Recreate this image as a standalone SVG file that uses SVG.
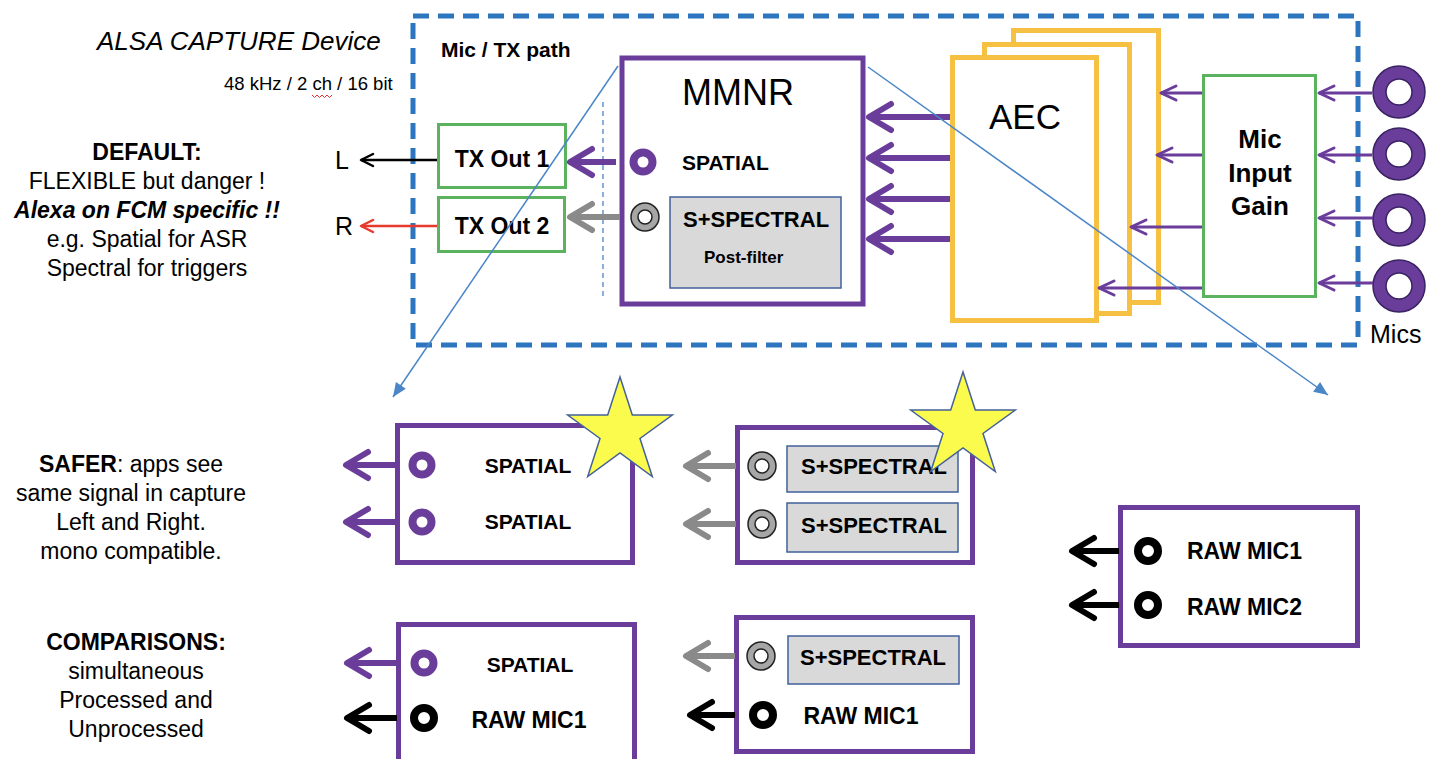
<svg xmlns="http://www.w3.org/2000/svg" width="1437" height="759" viewBox="0 0 1437 759">
<style>
text{font-family:"Liberation Sans",Arial,sans-serif;fill:#000}
.b{font-weight:bold}
.c{text-anchor:middle}
.side{font-size:23px;text-anchor:middle}
.node{fill:#fff;stroke:#6a3d9a;stroke-width:5}
.green{fill:#fff;stroke:#5cb35f;stroke-width:3}
.aec{fill:#fff;stroke:#f6c142;stroke-width:5}
.gbox{fill:#d9d9d9;stroke:#41609c;stroke-width:1.5}
.pring{fill:none;stroke:#6a3d9a;stroke-width:8}
.bring{fill:none;stroke:#000;stroke-width:8}
.gring{fill:#a6a6a6;fill-rule:evenodd;stroke:#222;stroke-width:1.5}
.mic{fill:#6a3d9a;fill-rule:evenodd;stroke:#3a2363;stroke-width:1.5}
.star{fill:#fbfb4e;stroke:#44619a;stroke-width:1.5}
.ap{fill:none;stroke:#6a3d9a;stroke-width:6;marker-end:url(#mP)}
.ag{fill:none;stroke:#8a8a8a;stroke-width:6;marker-end:url(#mG)}
.ak{fill:none;stroke:#000;stroke-width:6;marker-end:url(#mK)}
.apt{fill:none;stroke:#6a3d9a;stroke-width:3;marker-end:url(#mPt)}
.proj{fill:none;stroke:#4a86c8;stroke-width:1.5;marker-end:url(#mB)}
</style>
<defs>
<marker id="mP" markerUnits="userSpaceOnUse" viewBox="-28 -17 32 34" refX="0" refY="0" markerWidth="32" markerHeight="34" orient="auto" overflow="visible">
<path d="M-22,-13 L0,0 L-22,13" fill="none" stroke="#6a3d9a" stroke-width="6" stroke-linecap="round" stroke-linejoin="round"/>
</marker>
<marker id="mG" markerUnits="userSpaceOnUse" viewBox="-28 -17 32 34" refX="0" refY="0" markerWidth="32" markerHeight="34" orient="auto" overflow="visible">
<path d="M-22,-13 L0,0 L-22,13" fill="none" stroke="#8a8a8a" stroke-width="6" stroke-linecap="round" stroke-linejoin="round"/>
</marker>
<marker id="mK" markerUnits="userSpaceOnUse" viewBox="-28 -17 32 34" refX="0" refY="0" markerWidth="32" markerHeight="34" orient="auto" overflow="visible">
<path d="M-22,-13 L0,0 L-22,13" fill="none" stroke="#000" stroke-width="6" stroke-linecap="round" stroke-linejoin="round"/>
</marker>
<marker id="mPt" markerUnits="userSpaceOnUse" viewBox="-20 -10 24 20" refX="0" refY="0" markerWidth="24" markerHeight="20" orient="auto" overflow="visible">
<path d="M-15,-7 L0,0 L-15,7" fill="none" stroke="#6a3d9a" stroke-width="3" stroke-linecap="round" stroke-linejoin="round"/>
</marker>
<marker id="mKt" markerUnits="userSpaceOnUse" viewBox="-18 -9 22 18" refX="0" refY="0" markerWidth="22" markerHeight="18" orient="auto" overflow="visible">
<path d="M-12,-6 L0,0 L-12,6" fill="none" stroke="#000" stroke-width="2.5" stroke-linecap="round" stroke-linejoin="round"/>
</marker>
<marker id="mR" markerUnits="userSpaceOnUse" viewBox="-18 -9 22 18" refX="0" refY="0" markerWidth="22" markerHeight="18" orient="auto" overflow="visible">
<path d="M-12,-6 L0,0 L-12,6" fill="none" stroke="#e8392d" stroke-width="2.5" stroke-linecap="round" stroke-linejoin="round"/>
</marker>
<marker id="mB" markerUnits="userSpaceOnUse" viewBox="-16 -8 18 16" refX="0" refY="0" markerWidth="18" markerHeight="16" orient="auto" overflow="visible">
<path d="M-14,-6 L0,0 L-14,6 Z" fill="#4a86c8"/>
</marker>
<path id="gr" class="gring" d="M-14,0 a14,14 0 1,0 28,0 a14,14 0 1,0 -28,0 Z M-7,0 a7,7 0 1,0 14,0 a7,7 0 1,0 -14,0 Z"/>
<path id="micring" class="mic" d="M-26,0 a26,26 0 1,0 52,0 a26,26 0 1,0 -52,0 Z M-13,0 a13,13 0 1,0 26,0 a13,13 0 1,0 -26,0 Z"/>
<polygon id="star" class="star" points="0,-55 12.3,-17 52.3,-17 20,6.5 32.3,44.5 0,21 -32.3,44.5 -20,6.5 -52.3,-17 -12.3,-17"/>
</defs>

<rect width="1437" height="759" fill="#fff"/>

<g id="labels">
<text x="97" y="50" font-size="26" font-style="italic">ALSA CAPTURE Device</text>
<text x="224" y="90" font-size="18.5">48 kHz / 2 ch / 16 bit</text>
<path d="M312,95 l2.5,2.5 l2.5,-2.5 l2.5,2.5 l2.5,-2.5 l2.5,2.5 l2.5,-2.5 l2.5,2.5 l2.5,-2.5" fill="none" stroke="#e03030" stroke-width="1"/>
<text class="side b" x="147" y="160">DEFAULT:</text>
<text class="side" x="147" y="189">FLEXIBLE but danger !</text>
<text class="side b" x="147" y="218" font-style="italic">Alexa on FCM specific !!</text>
<text class="side" x="147" y="247">e.g. Spatial for ASR</text>
<text class="side" x="147" y="276">Spectral for triggers</text>
<text class="side" x="131" y="472"><tspan font-weight="bold">SAFER</tspan>: apps see</text>
<text class="side" x="131" y="501">same signal in capture</text>
<text class="side" x="131" y="530">Left and Right.</text>
<text class="side" x="131" y="559">mono compatible.</text>
<text class="side b" x="136" y="650">COMPARISONS:</text>
<text class="side" x="136" y="679">simultaneous</text>
<text class="side" x="136" y="708">Processed and</text>
<text class="side" x="136" y="737">Unprocessed</text>
<text x="335" y="169" font-size="25">L</text>
<text x="335" y="235" font-size="25">R</text>
</g>

<g id="capture-device">
<rect x="413" y="16" width="945" height="329" fill="none" stroke="#2e75c0" stroke-width="5" stroke-dasharray="16 9"/>
<text x="441" y="57" font-size="21" class="b">Mic / TX path</text>
<line x1="603" y1="102" x2="603" y2="300" stroke="#4a86c8" stroke-width="1.3" stroke-dasharray="5 4"/>
</g>

<g id="tx-out-1">
<rect class="green" x="438.5" y="124.5" width="127" height="63"/>
<text class="b c" x="502" y="167" font-size="23">TX Out 1</text>
</g>
<g id="tx-out-2">
<rect class="green" x="438.5" y="197.5" width="126" height="54"/>
<text class="b c" x="502" y="234" font-size="23">TX Out 2</text>
</g>

<g id="mmnr">
<rect class="node" x="622" y="58" width="241" height="246"/>
<text x="682" y="105" font-size="36">MMNR</text>
<circle class="pring" cx="643" cy="162" r="9.5"/>
<text class="b" x="682" y="170" font-size="21">SPATIAL</text>
<use href="#gr" x="645" y="217"/>
<rect class="gbox" x="670" y="197" width="171" height="91"/>
<text class="b" x="683" y="227" font-size="22">S+SPECTRAL</text>
<text class="b" x="704" y="263" font-size="17">Post-filter</text>
</g>

<g id="aec">
<rect class="aec" x="1013.5" y="30.5" width="145" height="272"/>
<rect class="aec" x="984.5" y="44.5" width="145" height="269"/>
<rect class="aec" x="952.5" y="57.5" width="144" height="263"/>
<text x="989" y="129" font-size="35">AEC</text>
</g>

<g id="mic-input-gain">
<rect class="green" x="1203.5" y="75.5" width="112" height="221"/>
<text class="b c" x="1260" y="148" font-size="26">Mic</text>
<text class="b c" x="1260" y="182" font-size="26">Input</text>
<text class="b c" x="1260" y="215" font-size="26">Gain</text>
</g>

<g id="mics">
<use href="#micring" x="1399" y="92"/>
<use href="#micring" x="1399" y="154"/>
<use href="#micring" x="1399" y="220"/>
<use href="#micring" x="1399" y="286"/>
<text x="1370" y="343" font-size="25">Mics</text>
</g>

<g id="safer-spatial">
<rect class="node" x="397.5" y="425.5" width="235" height="137"/>
<circle class="pring" cx="422" cy="465" r="9.5"/>
<circle class="pring" cx="422" cy="522" r="9.5"/>
<text class="b c" x="528" y="473" font-size="21">SPATIAL</text>
<text class="b c" x="528" y="529" font-size="21">SPATIAL</text>
<use href="#star" x="620" y="432"/>
</g>

<g id="safer-spectral">
<rect class="node" x="737.5" y="427.5" width="235" height="135"/>
<use href="#gr" x="762" y="466"/>
<use href="#gr" x="762" y="524"/>
<rect class="gbox" x="787" y="446" width="171" height="46"/>
<rect class="gbox" x="787" y="503" width="171" height="49"/>
<text class="b c" x="874" y="474" font-size="22">S+SPECTRAL</text>
<text class="b c" x="874" y="533" font-size="22">S+SPECTRAL</text>
<use href="#star" x="963" y="427"/>
</g>

<g id="raw-mics">
<rect class="node" x="1120.5" y="507.5" width="237" height="138"/>
<circle class="bring" cx="1148" cy="551" r="10"/>
<circle class="bring" cx="1148" cy="605" r="10"/>
<text class="b" x="1187" y="559" font-size="23">RAW MIC1</text>
<text class="b" x="1187" y="615" font-size="23">RAW MIC2</text>
</g>

<g id="compare-spatial">
<rect class="node" x="398.5" y="624.5" width="236" height="200"/>
<circle class="pring" cx="424" cy="663" r="9.5"/>
<circle class="bring" cx="424" cy="718" r="10"/>
<text class="b c" x="530" y="672" font-size="21">SPATIAL</text>
<text class="b c" x="529" y="728" font-size="23">RAW MIC1</text>
</g>

<g id="compare-spectral">
<rect class="node" x="736.5" y="617.5" width="236" height="134"/>
<use href="#gr" x="761" y="656"/>
<rect class="gbox" x="788" y="636" width="171" height="48"/>
<text class="b c" x="873" y="665" font-size="22">S+SPECTRAL</text>
<circle class="bring" cx="763" cy="715" r="10"/>
<text class="b c" x="861" y="724" font-size="23">RAW MIC1</text>
</g>

<g id="connectors">
<line x1="437" y1="160" x2="361" y2="160" stroke="#000" stroke-width="2.5" marker-end="url(#mKt)"/>
<line x1="437" y1="226" x2="361" y2="226" stroke="#e8392d" stroke-width="2.5" marker-end="url(#mR)"/>
<path class="ap" d="M616,162 H570"/>
<path class="ag" d="M620,217 H570"/>
<path class="ap" d="M950,117 H869"/>
<path class="ap" d="M950,158 H869"/>
<path class="ap" d="M950,199 H869"/>
<path class="ap" d="M950,239 H869"/>
<path class="apt" d="M1202,93 H1161"/>
<path class="apt" d="M1202,155 H1157"/>
<path class="apt" d="M1202,227 H1131"/>
<path class="apt" d="M1202,288 H1099"/>
<path class="apt" d="M1372,93 H1319"/>
<path class="apt" d="M1372,155 H1319"/>
<path class="apt" d="M1373,218 H1319"/>
<path class="apt" d="M1373,283 H1319"/>
<path class="ap" d="M398,465 H346"/>
<path class="ap" d="M398,522 H346"/>
<path class="ag" d="M736,466 H686"/>
<path class="ag" d="M736,524 H686"/>
<path class="ak" d="M1119,551 H1072"/>
<path class="ak" d="M1119,605 H1072"/>
<path class="ap" d="M397,663 H347"/>
<path class="ak" d="M397,718 H347"/>
<path class="ag" d="M735,656 H686"/>
<path class="ak" d="M735,715 H690"/>
<path class="proj" d="M618,66 L393,397"/>
<path class="proj" d="M868,67 L1328,395"/>
</g>
</svg>
